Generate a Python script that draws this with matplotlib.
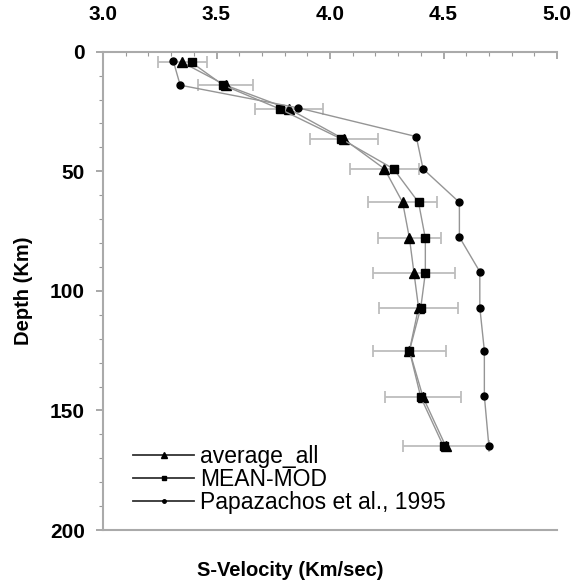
import matplotlib.pyplot as plt
from matplotlib.ticker import MultipleLocator
from matplotlib.lines import Line2D
import numpy as np

plt.rcParams['font.family'] = ['Liberation Sans', 'DejaVu Sans']

# depth (km) and S-velocity (km/s)
depth = [4.5, 14, 24, 36.5, 49, 63, 78, 92.5, 107, 125, 144.5, 165]
average_all = [3.35, 3.54, 3.82, 4.06, 4.24, 4.32, 4.35, 4.37, 4.39, 4.35, 4.41, 4.51]
average_err = [0.107, 0.12, 0.151, 0.15, 0.154, 0.152, 0.137, 0.18, 0.175, 0.159, 0.167, 0.189]
mean_mod = [3.39, 3.53, 3.78, 4.05, 4.28, 4.39, 4.42, 4.42, 4.40, 4.35, 4.40, 4.50]
papa_depth = [4, 14, 23.5, 35.5, 49, 63, 77.5, 92, 107, 125, 144, 165]
papazachos = [3.31, 3.34, 3.86, 4.38, 4.41, 4.57, 4.57, 4.66, 4.66, 4.68, 4.68, 4.70]
labels = ['average_all', 'MEAN-MOD', 'Papazachos et al., 1995']

fig = plt.figure(figsize=(5.75, 5.83), dpi=100)
ax = fig.add_axes([103/575, 1 - 530/583, (557-103)/575, (530-51.7)/583])

line_col = '#959595'
ax.errorbar(average_all, depth, xerr=average_err, fmt='none', ecolor='#bdbdbd',
            elinewidth=1.3, capsize=4, capthick=1.3, zorder=1)
ax.plot(average_all, depth, color=line_col, lw=1, marker='^', ms=6.5,
        mfc='black', mec='black', zorder=3)
ax.plot(mean_mod, depth, color=line_col, lw=1, marker='s', ms=5.5,
        mfc='black', mec='black', zorder=3)
ax.plot(papazachos, papa_depth, color=line_col, lw=1, marker='o', ms=5,
        mfc='black', mec='black', zorder=3)

ax.set_xlim(3.0, 5.0)
ax.set_ylim(200, 0)
ax.xaxis.set_major_locator(MultipleLocator(0.5))
ax.xaxis.set_minor_locator(MultipleLocator(0.1))
ax.yaxis.set_major_locator(MultipleLocator(50))
ax.yaxis.set_minor_locator(MultipleLocator(10))
ax.xaxis.tick_top()
ax.set_xticklabels([f'{v:.1f}' for v in ax.get_xticks()])
ax.tick_params(axis='x', which='both', direction='in', colors='#999999',
               labelcolor='black', labelsize=15, pad=20)
ax.tick_params(axis='x', which='major', length=5, width=1.2)
ax.tick_params(axis='x', which='minor', length=3, width=0.8)
ax.tick_params(axis='y', which='major', direction='out', length=5, width=1.2,
               colors='#999999', labelcolor='black', labelsize=15, pad=8)
ax.tick_params(axis='y', which='minor', direction='out', length=3, width=0.8,
               colors='#999999')
for lab in ax.get_xticklabels() + ax.get_yticklabels():
    lab.set_fontweight('bold')

for side in ['top', 'left', 'bottom']:
    ax.spines[side].set_color('#aaaaaa')
    ax.spines[side].set_linewidth(1.5)
ax.spines['right'].set_visible(False)

ax.set_ylabel('Depth (Km)', fontsize=14.5, fontweight='bold', labelpad=12)
fig.text(290/575, 1 - 570/583, 'S-Velocity (Km/sec)', fontsize=14.5,
         fontweight='bold', ha='center', va='center')

# legend handles drawn darker than the plotted lines, like the original
handles = [Line2D([], [], color='#333333', lw=1.3, marker='^', ms=5, mfc='black', mec='black'),
           Line2D([], [], color='#333333', lw=1.3, marker='s', ms=3.5, mfc='black', mec='black'),
           Line2D([], [], color='#333333', lw=1.3, marker='o', ms=2.5, mfc='black', mec='black')]
ax.legend(handles, labels, loc='lower left', bbox_to_anchor=(0.045, 0.014),
          frameon=False, fontsize=16.5, handlelength=2.7, handletextpad=0.25,
          labelspacing=0.0, borderaxespad=0)

fig.savefig('out.png', dpi=100)
